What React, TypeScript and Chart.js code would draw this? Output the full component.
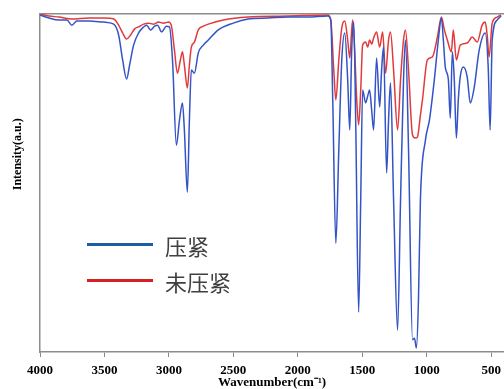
import React, { useEffect, useRef } from "react";
import { Chart, registerables } from "chart.js";

Chart.register(...registerables);

const SERIES_NAMES = ["压紧", "未压紧"];
const X_TITLE = "Wavenumber(cm⁻¹)";
const Y_TITLE = "Intensity(a.u.)";
const xTicks = [4000, 3500, 3000, 2500, 2000, 1500, 1000, 500];

// 压紧 (pressed) spectrum
const pressedWn = [
  4000, 3930, 3853, 3791, 3753, 3714, 3621, 3506, 3428, 3390,
  3359, 3328, 3305, 3274, 3235, 3204, 3173, 3142, 3111, 3088,
  3057, 3019, 2996, 2972, 2942, 2918, 2895, 2880, 2857, 2841,
  2826, 2802, 2772, 2733, 2694, 2617, 2501, 2385, 2231, 2076,
  1922, 1767, 1744, 1729, 1705, 1682, 1659, 1636, 1613, 1597,
  1582, 1566, 1551, 1528, 1512, 1497, 1474, 1458, 1443, 1427,
  1412, 1389, 1365, 1350, 1335, 1311, 1296, 1281, 1257, 1226,
  1203, 1180, 1165, 1141, 1110, 1095, 1080, 1064, 1049, 1010,
  979, 941, 910, 886, 871, 856, 832, 817, 801, 786,
  770, 755, 740, 716, 686, 662, 631, 593, 546, 523,
  508, 492, 454, 423,
];
const pressedVal = [
  99.7, 98.8, 98.2, 98.2, 96.7, 97.9, 97.9, 97.6, 97.0, 93.8,
  86.4, 80.8, 84.9, 90.8, 94.4, 95.9, 96.7, 95.3, 96.4, 96.7,
  94.7, 96.4, 96.2, 86.4, 61.2, 68.6, 73.7, 65.7, 47.3, 68.6,
  83.4, 82.5, 88.5, 90.8, 92.3, 95.3, 97.3, 98.5, 98.8, 99.1,
  99.1, 99.4, 98.2, 74.6, 32.2, 59.8, 86.4, 94.4, 80.5, 65.7,
  89.3, 97.6, 68.6, 11.8, 45.0, 77.5, 73.7, 75.7, 77.5, 71.6,
  65.7, 87.0, 72.5, 83.4, 90.2, 53.0, 68.6, 79.6, 45.0, 6.5,
  45.0, 80.5, 92.3, 59.8, 3.6, 4.1, 1.2, 15.4, 45.0, 62.7,
  68.6, 80.5, 92.3, 98.8, 92.3, 84.3, 80.5, 69.2, 88.8, 80.5,
  63.3, 74.6, 81.4, 84.3, 81.4, 73.7, 78.4, 89.3, 94.4, 84.3,
  65.7, 92.3, 98.2, 99.4,
];

// 未压紧 (unpressed) spectrum
const looseWn = [
  4000, 3930, 3853, 3753, 3621, 3506, 3428, 3390, 3359, 3328,
  3297, 3266, 3235, 3196, 3158, 3119, 3081, 3042, 3003, 2980,
  2957, 2934, 2911, 2895, 2880, 2857, 2841, 2826, 2802, 2772,
  2733, 2694, 2578, 2385, 2076, 1767, 1744, 1721, 1705, 1682,
  1659, 1636, 1613, 1597, 1582, 1574, 1559, 1543, 1528, 1512,
  1497, 1474, 1458, 1443, 1427, 1412, 1389, 1365, 1342, 1319,
  1296, 1281, 1257, 1226, 1203, 1180, 1165, 1141, 1110, 1087,
  1072, 1049, 1033, 995, 956, 917, 886, 863, 840, 809,
  794, 770, 740, 686, 647, 608, 570, 546, 531, 516,
  492, 454, 423,
];
const looseVal = [
  100, 99.4, 99.1, 98.5, 98.8, 98.8, 98.5, 96.7, 94.4, 92.6,
  93.8, 95.6, 96.2, 97.0, 97.3, 97.0, 97.6, 97.3, 97.6, 96.4,
  89.3, 82.5, 86.4, 88.8, 84.9, 78.1, 84.9, 90.2, 91.7, 95.3,
  96.4, 97.0, 98.2, 99.1, 99.4, 99.7, 98.2, 83.4, 74.6, 86.4,
  95.9, 97.9, 92.3, 87.0, 95.3, 98.2, 89.3, 74.6, 67.2, 77.5,
  90.8, 91.7, 90.2, 92.3, 91.1, 92.9, 94.7, 90.2, 94.7, 82.5,
  92.3, 94.7, 83.4, 65.7, 80.5, 92.3, 95.3, 83.4, 64.2, 63.3,
  63.6, 70.1, 74.6, 86.4, 87.3, 93.2, 99.1, 95.3, 92.3, 88.8,
  95.3, 86.4, 90.8, 91.4, 93.2, 91.7, 96.7, 97.6, 93.8, 87.3,
  97.3, 99.1, 99.7,
];

const BLUE = "#3354c6";
const RED = "#e23a3a";
const LEGEND_BLUE = "#1f5ca6";
const LEGEND_RED = "#d42222";
const SERIF = "'Liberation Serif', 'Times New Roman', serif";
const AXIS_GRAY = "#8c8c8c";

const yTitlePlugin = {
  id: "yTitle",
  afterDraw(chart: any) {
    const { ctx, chartArea } = chart;
    const y = chartArea.top + (chartArea.bottom - chartArea.top) * 0.415;
    ctx.save();
    ctx.translate(18, y);
    ctx.rotate(-Math.PI / 2);
    ctx.font = `bold 12px ${SERIF}`;
    ctx.fillStyle = "#000";
    ctx.textAlign = "center";
    ctx.textBaseline = "middle";
    ctx.fillText(Y_TITLE, 0, 0);
    ctx.restore();
  },
};

export default function App() {
  const ref = useRef<HTMLCanvasElement>(null);

  useEffect(() => {
    const chart = new Chart(ref.current!, {
      type: "line",
      data: {
        datasets: [
          {
            label: SERIES_NAMES[0],
            data: pressedWn.map((x, i) => ({ x, y: pressedVal[i] })),
            borderColor: BLUE,
            borderWidth: 1.5,
            pointRadius: 0,
            fill: false,
            cubicInterpolationMode: "monotone",
          },
          {
            label: SERIES_NAMES[1],
            data: looseWn.map((x, i) => ({ x, y: looseVal[i] })),
            borderColor: RED,
            borderWidth: 1.5,
            pointRadius: 0,
            fill: false,
            cubicInterpolationMode: "monotone",
          },
        ],
      },
      plugins: [yTitlePlugin],
      options: {
        responsive: false,
        animation: false,
        layout: { padding: { top: 14, left: 0, right: 0, bottom: 0 } },
        plugins: { legend: { display: false }, tooltip: { enabled: false } },
        scales: {
          x: {
            type: "linear",
            reverse: true,
            min: 400,
            max: 4000,
            afterBuildTicks: (s: any) => {
              s.ticks = xTicks.map((v) => ({ value: v }));
            },
            afterFit: (s: any) => {
              s.height = 37;
            },
            ticks: {
              autoSkip: false,
              maxRotation: 0,
              padding: 6,
              color: "#000",
              font: { family: SERIF, weight: "bold", size: 13 },
              callback: (v: any) => String(v),
            },
            grid: {
              drawOnChartArea: false,
              drawTicks: true,
              tickLength: 5,
              color: AXIS_GRAY,
              lineWidth: 1,
            },
            border: { color: AXIS_GRAY, width: 1.5 },
            title: {
              display: true,
              text: X_TITLE,
              color: "#000",
              padding: 0,
              font: { family: SERIF, weight: "bold", size: 13, lineHeight: 1 },
            },
          },
          xTop: {
            type: "linear",
            position: "top",
            reverse: true,
            min: 400,
            max: 4000,
            ticks: { display: false },
            grid: { drawOnChartArea: false, drawTicks: false },
            border: { color: AXIS_GRAY, width: 1.5 },
            afterFit: (s: any) => {
              s.height = 0;
            },
          },
          y: {
            min: 0,
            max: 100,
            ticks: { display: false },
            grid: { drawOnChartArea: false, drawTicks: false },
            border: { color: AXIS_GRAY, width: 1.5 },
            afterFit: (s: any) => {
              s.width = 40;
            },
          },
        },
      } as any,
    });
    return () => chart.destroy();
  }, []);

  const legendText: React.CSSProperties = {
    position: "absolute",
    left: 165,
    fontFamily: "'Noto Sans CJK SC', sans-serif",
    fontSize: 22,
    lineHeight: "24px",
    color: "#404040",
    whiteSpace: "nowrap",
  };

  return (
    <div
      style={{
        position: "fixed",
        left: 0,
        top: 0,
        width: 504,
        height: 389,
        overflow: "hidden",
        background: "#fff",
      }}
    >
      <canvas ref={ref} width={507} height={389} style={{ display: "block" }} />
      <div style={{ position: "absolute", left: 87, top: 243, width: 66, height: 3, background: LEGEND_BLUE }} />
      <div style={{ ...legendText, top: 233 }}>{SERIES_NAMES[0]}</div>
      <div style={{ position: "absolute", left: 87, top: 279, width: 66, height: 3, background: LEGEND_RED }} />
      <div style={{ ...legendText, top: 269 }}>{SERIES_NAMES[1]}</div>
    </div>
  );
}
